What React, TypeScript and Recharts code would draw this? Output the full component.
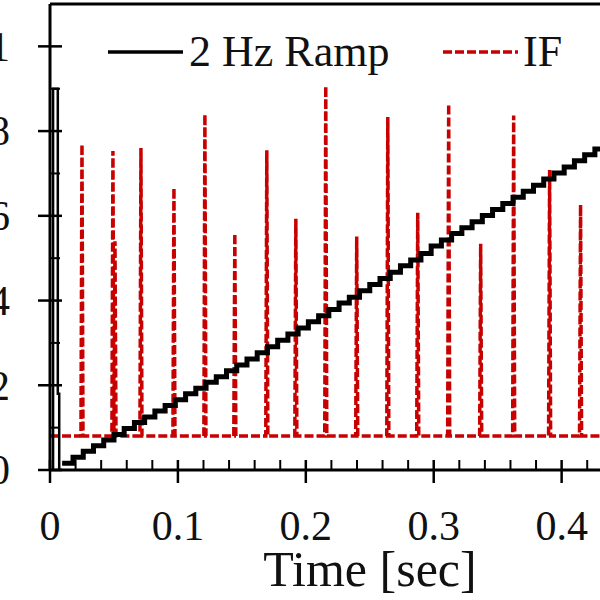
import { LineChart, Line, XAxis, YAxis, ReferenceLine } from "recharts";

// black "2 Hz Ramp" trace: short start pulse, then the quantised ramp
const pulseTime = [0, 0.0024, 0.0061, 0.0072, 0.0095];
const pulseValue = [0, 0.9, 0.18, 0, 0];
const rampTime = [
  0.0095, 0.018, 0.026, 0.034, 0.042, 0.05, 0.058, 0.066, 0.074, 0.082, 0.09,
  0.098, 0.106, 0.114, 0.122, 0.13, 0.138, 0.146, 0.154, 0.162, 0.17,
  0.178, 0.186, 0.194, 0.202, 0.21, 0.218, 0.226, 0.234, 0.242, 0.25,
  0.258, 0.266, 0.274, 0.282, 0.29, 0.298, 0.306, 0.314, 0.322, 0.33,
  0.338, 0.346, 0.354, 0.362, 0.37, 0.378, 0.386, 0.394, 0.402, 0.41,
  0.418, 0.426, 0.434, 0.442,
];
const rampValue = [
  0.016, 0.03, 0.044, 0.057, 0.071, 0.084, 0.098, 0.112, 0.125, 0.139, 0.152,
  0.166, 0.18, 0.193, 0.207, 0.22, 0.234, 0.248, 0.262, 0.277, 0.291,
  0.306, 0.321, 0.335, 0.35, 0.364, 0.379, 0.394, 0.408, 0.423, 0.438,
  0.452, 0.467, 0.482, 0.496, 0.511, 0.529, 0.543, 0.558, 0.572, 0.586,
  0.601, 0.615, 0.629, 0.644, 0.658, 0.672, 0.687, 0.701, 0.715, 0.73,
  0.744, 0.758, 0.772, 0.787,
];

// red "IF" trace: flat baseline with narrow spikes
const ifBaseline = 0.08;
const ifEnd = 0.44;
const spikeTime = [
  0.025, 0.0492, 0.0508, 0.0711, 0.0969, 0.1211, 0.1445, 0.1695, 0.1922,
  0.2156, 0.2398, 0.2641, 0.2875, 0.3117, 0.3367, 0.3625, 0.3906, 0.4148,
];
const spikePeak = [
  0.769, 0.753, 0.54, 0.76, 0.666, 0.84, 0.558, 0.755, 0.593,
  0.906, 0.551, 0.833, 0.607, 0.864, 0.534, 0.837, 0.708, 0.626,
];
const spikeHalfWidth = 0.0008;

const xTicks = [
  0, 0.02, 0.04, 0.06, 0.08, 0.1, 0.12, 0.14, 0.16, 0.18, 0.2, 0.22,
  0.24, 0.26, 0.28, 0.3, 0.32, 0.34, 0.36, 0.38, 0.4, 0.42,
];
const xMajorTicks = [0, 0.1, 0.2, 0.3, 0.4];
const xTickLabels = ["0", "0.1", "0.2", "0.3", "0.4"];
const yTicks = [0, 0.1, 0.2, 0.3, 0.4, 0.5, 0.6, 0.7, 0.8, 0.9, 1];
const yMajorTicks = [0, 0.2, 0.4, 0.6, 0.8, 1];
const yTickLabels = ["0", "0.2", "0.4", "0.6", "0.8", "1"];
const yMax = 1.1;
const xMax = 0.43;

const pulseData = pulseTime.map((t, i) => ({ t, v: pulseValue[i] }));
const rampData = rampTime.map((t, i) => ({ t, v: rampValue[i] }));

const ifData = [{ t: 0, v: ifBaseline }];
spikeTime.forEach((t, i) => {
  ifData.push({ t: t - spikeHalfWidth, v: ifBaseline });
  ifData.push({ t, v: spikePeak[i] });
  ifData.push({ t: t + spikeHalfWidth, v: ifBaseline });
});
ifData.push({ t: ifEnd, v: ifBaseline });

const FONT = "'Liberation Serif', 'Times New Roman', serif";
const RED = "#c80000";

const majorIndex = (list: number[], v: number) =>
  list.findIndex((m) => Math.abs(m - v) < 1e-6);

const XTick = (props: any) => {
  const { x, y, payload } = props;
  const idx = majorIndex(xMajorTicks, payload.value);
  if (idx < 0) {
    return <line x1={x} y1={y} x2={x} y2={y - 10} stroke="#000" strokeWidth={2} />;
  }
  return (
    <g>
      <line x1={x} y1={y - 10} x2={x} y2={y + 13} stroke="#000" strokeWidth={2.5} />
      <text x={x} y={y + 70} textAnchor="middle" fontSize={42} fontFamily={FONT} fill="#111">
        {xTickLabels[idx]}
      </text>
    </g>
  );
};

const YTick = (props: any) => {
  const { x, y, payload } = props;
  const idx = majorIndex(yMajorTicks, payload.value);
  if (idx < 0) {
    return <line x1={x} y1={y} x2={x + 10} y2={y} stroke="#000" strokeWidth={2} />;
  }
  return (
    <g>
      <line x1={x - 12} y1={y} x2={x + 12} y2={y} stroke="#000" strokeWidth={2.5} />
      <text x={x - 40} y={y} dy="0.34em" textAnchor="end" fontSize={42} fontFamily={FONT} fill="#111">
        {yTickLabels[idx]}
      </text>
    </g>
  );
};

export default function App() {
  return (
    <div
      style={{
        position: "fixed",
        top: 0,
        left: 0,
        width: 600,
        height: 600,
        overflow: "hidden",
        background: "#fff",
      }}
    >
      <LineChart width={600} height={600} margin={{ top: 4, right: 0, bottom: 0, left: 0 }}>
        <XAxis
          type="number"
          dataKey="t"
          domain={[0, xMax]}
          allowDataOverflow
          ticks={xTicks}
          tick={<XTick />}
          tickLine={false}
          tickSize={0}
          tickMargin={0}
          interval={0}
          height={130}
          axisLine={{ stroke: "#000", strokeWidth: 3 }}
          label={{
            value: "Time [sec]",
            position: "insideBottom",
            offset: 14,
            dx: 45,
            fontSize: 50,
            fontFamily: FONT,
            fill: "#111",
          }}
        />
        <YAxis
          type="number"
          dataKey="v"
          domain={[0, yMax]}
          allowDataOverflow
          ticks={yTicks}
          tick={<YTick />}
          tickLine={false}
          tickSize={0}
          tickMargin={0}
          interval={0}
          width={50}
          axisLine={{ stroke: "#000", strokeWidth: 3 }}
        />
        <ReferenceLine y={yMax} stroke="#000" strokeWidth={3} />
        <Line
          data={ifData}
          dataKey="v"
          type="linear"
          stroke={RED}
          strokeWidth={3.5}
          strokeDasharray="9 3"
          dot={false}
          isAnimationActive={false}
        />
        <Line
          data={pulseData}
          dataKey="v"
          type="stepAfter"
          stroke="#000"
          strokeWidth={2.5}
          dot={false}
          isAnimationActive={false}
        />
        <Line
          data={rampData}
          dataKey="v"
          type="stepAfter"
          stroke="#000"
          strokeWidth={5}
          dot={false}
          isAnimationActive={false}
        />
      </LineChart>
      <svg
        width={600}
        height={80}
        style={{ position: "absolute", top: 0, left: 0, pointerEvents: "none" }}
      >
        <line x1={108} y1={52} x2={183} y2={52} stroke="#000" strokeWidth={3.5} />
        <text x={189} y={66} fontSize={44} fontFamily={FONT} fill="#111">
          2 Hz Ramp
        </text>
        <line x1={443} y1={52} x2={518} y2={52} stroke={RED} strokeWidth={3.5} strokeDasharray="9 3" />
        <text x={523} y={66} fontSize={44} fontFamily={FONT} fill="#111">
          IF
        </text>
      </svg>
    </div>
  );
}
